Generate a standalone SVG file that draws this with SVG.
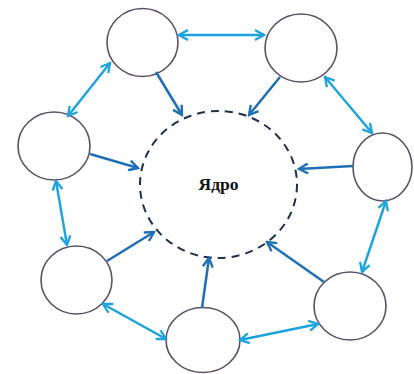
<svg xmlns="http://www.w3.org/2000/svg" width="414" height="374" viewBox="0 0 414 374">
<defs>
<style>
.node{fill:#fff;stroke:#5b5068;stroke-width:1.6}
.core{fill:none;stroke:#1c2f4d;stroke-width:2;stroke-dasharray:8 6}
.link{fill:none;stroke:#1ba3df;stroke-width:2.4}
.flow{fill:none;stroke:#1f6fb5;stroke-width:2.5}
.lbl{font-family:"Liberation Serif","Times New Roman",serif;font-weight:bold;font-size:17.5px;fill:#111}
</style>
<marker id="hl" viewBox="0 0 12 12" refX="10" refY="6" markerWidth="12" markerHeight="12" markerUnits="userSpaceOnUse" orient="auto-start-reverse">
<path d="M1,1 L10,6 L1,11" fill="none" stroke="#1ba3df" stroke-width="2.3"/>
</marker>
<marker id="hd" viewBox="0 0 12 12" refX="10" refY="6" markerWidth="12" markerHeight="12" markerUnits="userSpaceOnUse" orient="auto">
<path d="M1,1 L10,6 L1,11" fill="none" stroke="#1f6fb5" stroke-width="2.4"/>
</marker>
</defs>
<g id="core">
<ellipse class="core" cx="218.5" cy="184.5" rx="78.5" ry="73.5"/>
<text class="lbl" x="218.5" y="190" text-anchor="middle">Ядро</text>
</g>
<g id="nodeA"><ellipse class="node" cx="142.5" cy="42.5" rx="35.5" ry="34"/></g>
<g id="nodeB"><ellipse class="node" cx="301" cy="48" rx="36" ry="34"/></g>
<g id="nodeC"><ellipse class="node" cx="54" cy="146" rx="36" ry="34"/></g>
<g id="nodeD"><ellipse class="node" cx="382.5" cy="167" rx="29.5" ry="34"/></g>
<g id="nodeE"><ellipse class="node" cx="76.5" cy="280" rx="35.5" ry="34"/></g>
<g id="nodeF"><ellipse class="node" cx="203" cy="340" rx="37" ry="32.5"/></g>
<g id="nodeG"><ellipse class="node" cx="350" cy="306" rx="36" ry="34"/></g>
<g id="connectors">
<line class="link" x1="179" y1="35" x2="264" y2="35" marker-start="url(#hl)" marker-end="url(#hl)"/>
<line class="link" x1="110" y1="63" x2="68" y2="116" marker-start="url(#hl)" marker-end="url(#hl)"/>
<line class="link" x1="325" y1="77" x2="372" y2="133" marker-start="url(#hl)" marker-end="url(#hl)"/>
<line class="link" x1="56" y1="181" x2="67" y2="245" marker-start="url(#hl)" marker-end="url(#hl)"/>
<line class="link" x1="103" y1="304" x2="166" y2="339" marker-start="url(#hl)" marker-end="url(#hl)"/>
<line class="link" x1="240" y1="340" x2="318" y2="324" marker-start="url(#hl)" marker-end="url(#hl)"/>
<line class="link" x1="362" y1="272" x2="386" y2="201" marker-start="url(#hl)" marker-end="url(#hl)"/>
<line class="flow" x1="156" y1="72" x2="182" y2="115" marker-end="url(#hd)"/>
<line class="flow" x1="280" y1="77" x2="249" y2="115" marker-end="url(#hd)"/>
<line class="flow" x1="90" y1="154" x2="138" y2="168" marker-end="url(#hd)"/>
<line class="flow" x1="353" y1="166" x2="299" y2="169" marker-end="url(#hd)"/>
<line class="flow" x1="107" y1="261" x2="154" y2="232" marker-end="url(#hd)"/>
<line class="flow" x1="202" y1="308" x2="209" y2="258" marker-end="url(#hd)"/>
<line class="flow" x1="324" y1="282" x2="267" y2="242" marker-end="url(#hd)"/>
</g>
</svg>
